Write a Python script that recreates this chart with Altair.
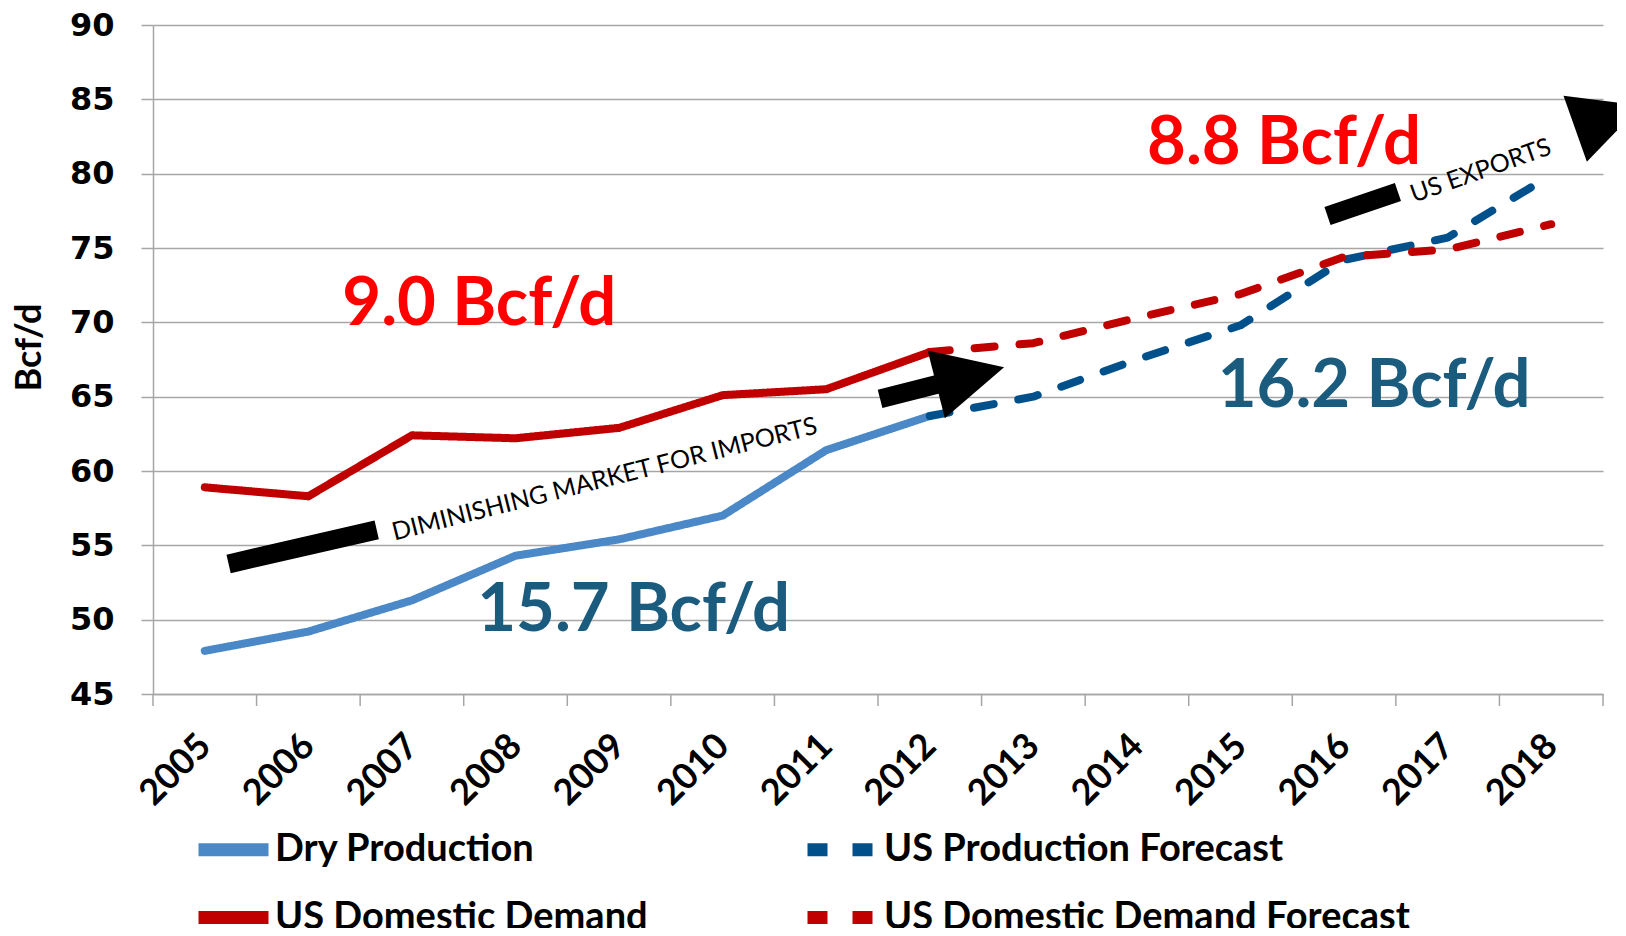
import altair as alt
import pandas as pd

# ---------------- data ----------------
hist_years = [2005, 2006, 2007, 2008, 2009, 2010, 2011, 2012]
fc_years = [2012, 2013, 2014, 2015, 2016, 2017, 2018]
all_years = list(range(2005, 2019))

dry_production = [47.9, 49.2, 51.3, 54.3, 55.4, 57.0, 61.4, 63.7]
us_production_forecast = [63.7, 65.0, 67.5, 69.8, 74.2, 75.7, 79.9]
us_domestic_demand = [58.9, 58.3, 62.4, 62.2, 62.9, 65.1, 65.5, 68.0]
us_demand_forecast = [68.0, 68.6, 70.3, 71.9, 74.4, 74.9, 76.6]

series_names = ["Dry Production", "US Production Forecast",
                "US Domestic Demand", "US Domestic Demand Forecast"]
series_colors = ["#4A88C8", "#00508C", "#C00000", "#C00000"]
series_dashes = [[1, 0], [20, 25], [1, 0], [20, 25]]

# big value annotations (x, y = baseline position in data units)
big_text = ["9.0 Bcf/d", "8.8 Bcf/d", "16.2 Bcf/d", "15.7 Bcf/d"]
big_x = [2007.65, 2015.42, 2016.29, 2009.14]
big_y = [69.85, 80.65, 64.3, 49.25]
big_color = ["#FF0000", "#FF0000", "#1B5C7E", "#1B5C7E"]

# arrow annotations
arrow_text = ["DIMINISHING MARKET FOR IMPORTS", "US EXPORTS"]
arrow_text_x = [2008.86, 2017.32]
arrow_text_y = [59.45, 80.2]
arrow_angle = [345.8, 340.5]
bar_x = [2005.23, 2011.52, 2015.84]
bar_y = [53.75, 64.85, 77.16]
bar_x2 = [2006.66, 2012.09, 2016.52]
bar_y2 = [56.04, 65.86, 78.77]
head_x = [2012.39, 2018.55]
head_y = [66.4, 83.8]

# ---------------- tables ----------------
rows = []
for name, yrs, vals in [
    (series_names[0], hist_years, dry_production),
    (series_names[1], fc_years, us_production_forecast),
    (series_names[2], hist_years, us_domestic_demand),
    (series_names[3], fc_years, us_demand_forecast),
]:
    for yr, v in zip(yrs, vals):
        rows.append({"year": yr, "value": v, "series": name})
df = pd.DataFrame(rows)

tick_df = pd.DataFrame({"b": [y - 0.5 for y in all_years] + [all_years[-1] + 0.5]})
big_df = pd.DataFrame({"x": big_x, "y": big_y, "t": big_text, "c": big_color})
atext_df = pd.DataFrame({"x": arrow_text_x, "y": arrow_text_y, "t": arrow_text, "a": arrow_angle})
bar_df = pd.DataFrame({"x": bar_x, "y": bar_y, "x2": bar_x2, "y2": bar_y2})
head_df = pd.DataFrame({"x": head_x, "y": head_y, "a": arrow_angle})

GRAY = "#A6A6A6"
xscale = alt.Scale(domain=[2004.5, 2018.5], nice=False, zero=False)
yscale = alt.Scale(domain=[45, 90], nice=False, zero=False)

X_AXIS = alt.Axis(
    values=all_years, format="d", labelAngle=-45, labelAlign="right",
    labelBaseline="middle", labelFont="Lato", labelFontWeight="bold",
    labelFontSize=36, labelColor="black", labelPadding=46, ticks=False,
    grid=False, domainColor=GRAY, domainWidth=1.5, title=None)
Y_AXIS = alt.Axis(
    values=list(range(45, 91, 5)), grid=True, gridColor=GRAY, gridWidth=1.5,
    tickSize=12, tickColor=GRAY, tickWidth=1.5, domainColor=GRAY, domainWidth=1.5,
    labelFont="DejaVu Sans", labelFontWeight="bold", labelFontSize=32,
    labelColor="black", labelPadding=27,
    title="Bcf/d", titleFont="Lato", titleFontWeight="bold", titleFontSize=36,
    titleColor="black", titleAngle=270, titleX=-124, titleY=322,
    titleAlign="center", titleBaseline="middle")

leg = alt.Legend(
    title=None, orient="none", legendX=39, legendY=783,
    direction="horizontal", columns=2, symbolType="stroke",
    symbolSize=4900, symbolStrokeWidth=13,
    labelFont="Lato", labelFontWeight="bold", labelFontSize=38,
    labelColor="black", labelOffset=0, columnPadding=133, rowPadding=-34,
    labelLimit=1000, padding=0,
)

lines = alt.Chart(df).mark_line(strokeWidth=8, strokeCap="round", strokeJoin="round").encode(
    x=alt.X("year:Q", scale=xscale, axis=X_AXIS),
    y=alt.Y("value:Q", scale=yscale, axis=Y_AXIS),
    color=alt.Color("series:N", scale=alt.Scale(domain=series_names, range=series_colors), legend=leg),
    strokeDash=alt.StrokeDash("series:N", scale=alt.Scale(domain=series_names, range=series_dashes), legend=leg),
)

ticks = alt.Chart(tick_df).mark_rule(color=GRAY, strokeWidth=1.5).encode(
    x=alt.X("b:Q", scale=xscale, axis=X_AXIS),
    y=alt.value(669), y2=alt.value(681),
)

bars = alt.Chart(bar_df).mark_rule(strokeWidth=19, color="black", strokeCap="butt").encode(
    x=alt.X("x:Q", scale=xscale, axis=X_AXIS),
    y=alt.Y("y:Q", scale=yscale, axis=Y_AXIS),
    x2="x2:Q", y2="y2:Q",
)

heads = alt.Chart(head_df).mark_point(
    shape="M-1,-1L1,0L-1,1Z", filled=True, color="black", opacity=1, size=4900, strokeWidth=0
).encode(
    x=alt.X("x:Q", scale=xscale, axis=X_AXIS),
    y=alt.Y("y:Q", scale=yscale, axis=Y_AXIS),
    angle=alt.Angle("a:Q", scale=None),
)

atext = alt.Chart(atext_df).mark_text(
    font="Lato", fontSize=25, color="black", align="center", baseline="middle"
).encode(
    x=alt.X("x:Q", scale=xscale, axis=X_AXIS),
    y=alt.Y("y:Q", scale=yscale, axis=Y_AXIS),
    text="t:N",
    angle=alt.Angle("a:Q", scale=None),
)

bigtext = alt.Chart(big_df).mark_text(
    font="Lato", fontSize=67, fontWeight="bold", align="center", baseline="alphabetic"
).encode(
    x=alt.X("x:Q", scale=xscale, axis=X_AXIS),
    y=alt.Y("y:Q", scale=yscale, axis=Y_AXIS),
    text="t:N",
    color=alt.Color("c:N", scale=None),
)

chart = alt.layer(lines, ticks, bars, heads, atext, bigtext).properties(
    width=1450, height=669,
    autosize=alt.AutoSizeParams(type="none"),
    padding={"left": 145, "top": 17, "right": 14, "bottom": 234},
    background="white",
).configure_view(stroke=None)

chart.save("out.html", embed_options={"renderer": "svg", "actions": False})
